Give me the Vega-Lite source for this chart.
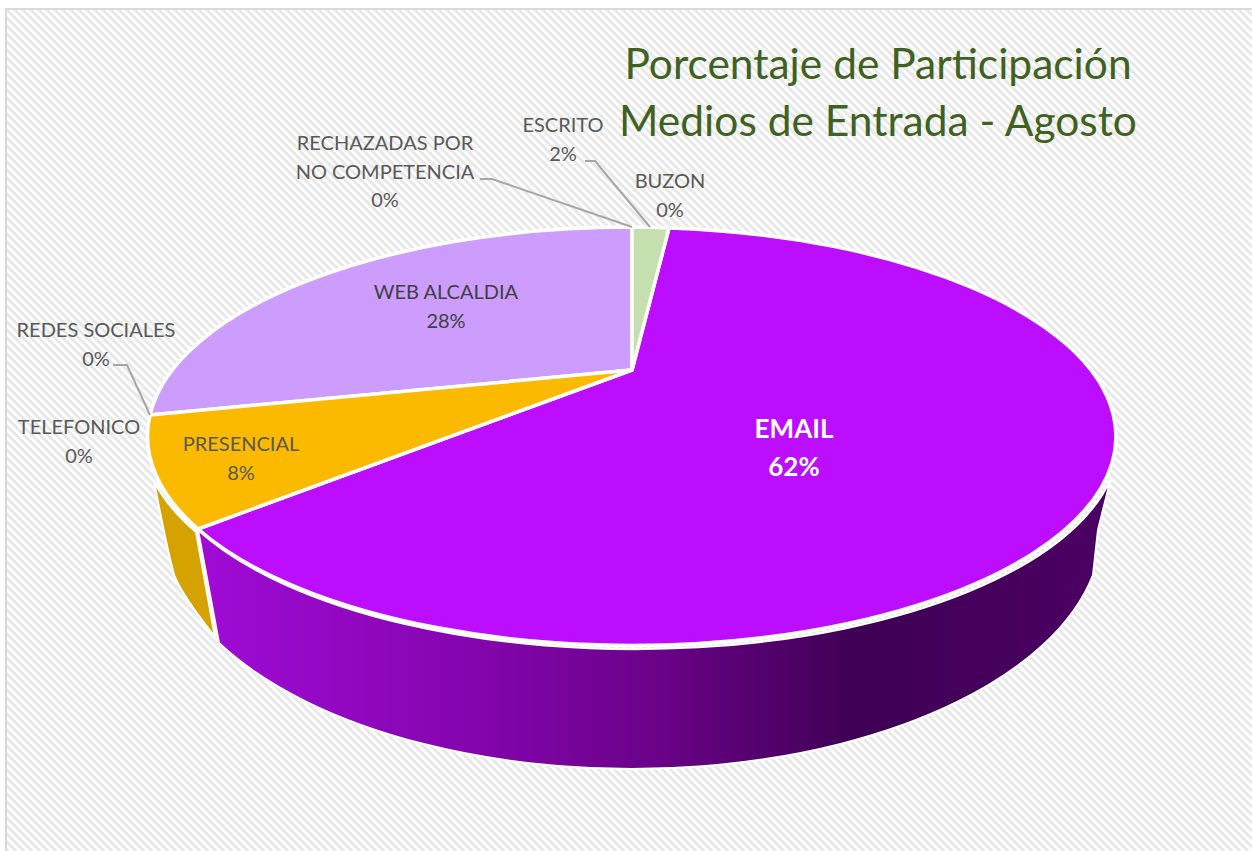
{"$schema":"https://vega.github.io/schema/vega-lite/v6.json","width":1252,"height":851,"padding":0,"autosize":{"type":"none"},"background":"white","config":{"view":{"stroke":null},"axis":{"disable":true},"text":{"font":"Lato"}},"title":{"text":["Porcentaje de Participación","Medios de Entrada - Agosto"],"font":"Lato","fontSize":42.5,"fontWeight":"normal","color":"#3F6122","anchor":"start","align":"center","baseline":"alphabetic","dx":878,"dy":178,"offset":0,"lineHeight":57},"data":{"values":[{"medio":"EMAIL","pct":62,"etiqueta":"EMAIL\n62%"},{"medio":"WEB ALCALDIA","pct":28,"etiqueta":"WEB ALCALDIA\n28%"},{"medio":"PRESENCIAL","pct":8,"etiqueta":"PRESENCIAL\n8%"},{"medio":"ESCRITO","pct":2,"etiqueta":"ESCRITO\n2%"},{"medio":"BUZON","pct":0,"etiqueta":"BUZON\n0%"},{"medio":"RECHAZADAS POR NO COMPETENCIA","pct":0,"etiqueta":"RECHAZADAS POR\nNO COMPETENCIA\n0%"},{"medio":"REDES SOCIALES","pct":0,"etiqueta":"REDES SOCIALES\n0%"},{"medio":"TELEFONICO","pct":0,"etiqueta":"TELEFONICO\n0%"}]},"encoding":{"x":{"datum":0,"type":"quantitative","scale":{"domain":[0,1252]}},"y":{"datum":0,"type":"quantitative","scale":{"domain":[851,0]}}},"layer":[{"transform":[{"filter":"datum.medio==='EMAIL'"}],"mark":{"type":"point","filled":true,"size":4,"clip":true,"fill":null,"stroke":"#E8E8E8","strokeWidth":3,"opacity":1,"shape":"M-851 0 l851 851 m-843 -851 l851 851 m-843 -851 l851 851 m-843 -851 l851 851 m-843 -851 l851 851 m-843 -851 l851 851 m-843 -851 l851 851 m-843 -851 l851 851 m-843 -851 l851 851 m-843 -851 l851 851 m-843 -851 l851 851 m-843 -851 l851 851 m-843 -851 l851 851 m-843 -851 l851 851 m-843 -851 l851 851 m-843 -851 l851 851 m-843 -851 l851 851 m-843 -851 l851 851 m-843 -851 l851 851 m-843 -851 l851 851 m-843 -851 l851 851 m-843 -851 l851 851 m-843 -851 l851 851 m-843 -851 l851 851 m-843 -851 l851 851 m-843 -851 l851 851 m-843 -851 l851 851 m-843 -851 l851 851 m-843 -851 l851 851 m-843 -851 l851 851 m-843 -851 l851 851 m-843 -851 l851 851 m-843 -851 l851 851 m-843 -851 l851 851 m-843 -851 l851 851 m-843 -851 l851 851 m-843 -851 l851 851 m-843 -851 l851 851 m-843 -851 l851 851 m-843 -851 l851 851 m-843 -851 l851 851 m-843 -851 l851 851 m-843 -851 l851 851 m-843 -851 l851 851 m-843 -851 l851 851 m-843 -851 l851 851 m-843 -851 l851 851 m-843 -851 l851 851 m-843 -851 l851 851 m-843 -851 l851 851 m-843 -851 l851 851 m-843 -851 l851 851 m-843 -851 l851 851 m-843 -851 l851 851 m-843 -851 l851 851 m-843 -851 l851 851 m-843 -851 l851 851 m-843 -851 l851 851 m-843 -851 l851 851 m-843 -851 l851 851 m-843 -851 l851 851 m-843 -851 l851 851 m-843 -851 l851 851 m-843 -851 l851 851 m-843 -851 l851 851 m-843 -851 l851 851 m-843 -851 l851 851 m-843 -851 l851 851 m-843 -851 l851 851 m-843 -851 l851 851 m-843 -851 l851 851 m-843 -851 l851 851 m-843 -851 l851 851 m-843 -851 l851 851 m-843 -851 l851 851 m-843 -851 l851 851 m-843 -851 l851 851 m-843 -851 l851 851 m-843 -851 l851 851 m-843 -851 l851 851 m-843 -851 l851 851 m-843 -851 l851 851 m-843 -851 l851 851 m-843 -851 l851 851 m-843 -851 l851 851 m-843 -851 l851 851 m-843 -851 l851 851 m-843 -851 l851 851 m-843 -851 l851 851 m-843 -851 l851 851 m-843 -851 l851 851 m-843 -851 l851 851 m-843 -851 l851 851 m-843 -851 l851 851 m-843 -851 l851 851 m-843 -851 l851 851 m-843 -851 l851 851 m-843 -851 l851 851 m-843 -851 l851 851 m-843 -851 l851 851 m-843 -851 l851 851 m-843 -851 l851 851 m-843 -851 l851 851 m-843 -851 l851 851 m-843 -851 l851 851 m-843 -851 l851 851 m-843 -851 l851 851 m-843 -851 l851 851 m-843 -851 l851 851 m-843 -851 l851 851 m-843 -851 l851 851 m-843 -851 l851 851 m-843 -851 l851 851 m-843 -851 l851 851 m-843 -851 l851 851 m-843 -851 l851 851 m-843 -851 l851 851 m-843 -851 l851 851 m-843 -851 l851 851 m-843 -851 l851 851 m-843 -851 l851 851 m-843 -851 l851 851 m-843 -851 l851 851 m-843 -851 l851 851 m-843 -851 l851 851 m-843 -851 l851 851 m-843 -851 l851 851 m-843 -851 l851 851 m-843 -851 l851 851 m-843 -851 l851 851 m-843 -851 l851 851 m-843 -851 l851 851 m-843 -851 l851 851 m-843 -851 l851 851 m-843 -851 l851 851 m-843 -851 l851 851 m-843 -851 l851 851 m-843 -851 l851 851 m-843 -851 l851 851 m-843 -851 l851 851 m-843 -851 l851 851 m-843 -851 l851 851 m-843 -851 l851 851 m-843 -851 l851 851 m-843 -851 l851 851 m-843 -851 l851 851 m-843 -851 l851 851 m-843 -851 l851 851 m-843 -851 l851 851 m-843 -851 l851 851 m-843 -851 l851 851 m-843 -851 l851 851 m-843 -851 l851 851 m-843 -851 l851 851 m-843 -851 l851 851 m-843 -851 l851 851 m-843 -851 l851 851 m-843 -851 l851 851 m-843 -851 l851 851 m-843 -851 l851 851 m-843 -851 l851 851 m-843 -851 l851 851 m-843 -851 l851 851 m-843 -851 l851 851 m-843 -851 l851 851 m-843 -851 l851 851 m-843 -851 l851 851 m-843 -851 l851 851 m-843 -851 l851 851 m-843 -851 l851 851 m-843 -851 l851 851 m-843 -851 l851 851 m-843 -851 l851 851 m-843 -851 l851 851 m-843 -851 l851 851 m-843 -851 l851 851 m-843 -851 l851 851 m-843 -851 l851 851 m-843 -851 l851 851 m-843 -851 l851 851 m-843 -851 l851 851 m-843 -851 l851 851 m-843 -851 l851 851 m-843 -851 l851 851 m-843 -851 l851 851 m-843 -851 l851 851 m-843 -851 l851 851 m-843 -851 l851 851 m-843 -851 l851 851 m-843 -851 l851 851 m-843 -851 l851 851 m-843 -851 l851 851 m-843 -851 l851 851 m-843 -851 l851 851 m-843 -851 l851 851 m-843 -851 l851 851 m-843 -851 l851 851 m-843 -851 l851 851 m-843 -851 l851 851 m-843 -851 l851 851 m-843 -851 l851 851 m-843 -851 l851 851 m-843 -851 l851 851 m-843 -851 l851 851 m-843 -851 l851 851 m-843 -851 l851 851 m-843 -851 l851 851 m-843 -851 l851 851 m-843 -851 l851 851 m-843 -851 l851 851 m-843 -851 l851 851 m-843 -851 l851 851 m-843 -851 l851 851 m-843 -851 l851 851 m-843 -851 l851 851 m-843 -851 l851 851 m-843 -851 l851 851 m-843 -851 l851 851 m-843 -851 l851 851 m-843 -851 l851 851 m-843 -851 l851 851 m-843 -851 l851 851 m-843 -851 l851 851 m-843 -851 l851 851 m-843 -851 l851 851 m-843 -851 l851 851 m-843 -851 l851 851 m-843 -851 l851 851 m-843 -851 l851 851 m-843 -851 l851 851 m-843 -851 l851 851 m-843 -851 l851 851 m-843 -851 l851 851 m-843 -851 l851 851 m-843 -851 l851 851 m-843 -851 l851 851 m-843 -851 l851 851 m-843 -851 l851 851 m-843 -851 l851 851 m-843 -851 l851 851 m-843 -851 l851 851 m-843 -851 l851 851 m-843 -851 l851 851 m-843 -851 l851 851 m-843 -851 l851 851 m-843 -851 l851 851 m-843 -851 l851 851 m-843 -851 l851 851 m-843 -851 l851 851 m-843 -851 l851 851 m-843 -851 l851 851 m-843 -851 l851 851 m-843 -851 l851 851 m-843 -851 l851 851 m-843 -851 l851 851 m-843 -851 l851 851 m-843 -851 l851 851 m-843 -851 l851 851 m-843 -851 l851 851 m-843 -851 l851 851 m-843 -851 l851 851 m-843 -851 l851 851 m-843 -851 l851 851 m-843 -851 l851 851 m-843 -851 l851 851 m-843 -851 l851 851 m-843 -851 l851 851 m-843 -851 l851 851 m-843 -851 l851 851 m-843 -851 l851 851 m-843 -851 l851 851 m-843 -851 l851 851 m-843 -851 l851 851 m-843 -851 l851 851 m-843 -851 l851 851 m-843 -851 l851 851 m-843 -851 l851 851 m-843 -851 l851 851 m-843 -851 l851 851 m-843 -851 l851 851 m-843 -851 l851 851 m-843 -851 l851 851 m-843 -851 l851 851 m-843 -851 l851 851 m-843 -851 l851 851 m-843 -851 l851 851 m-843 -851 l851 851 m-843 -851 l851 851 m-843 -851 l851 851 m-843 -851 l851 851 m-843 -851 l851 851 m-843 -851 l851 851 m-843 -851 l851 851 m-843 -851 l851 851 m-843 -851 l851 851 m-843 -851 l851 851 m-843 -851 l851 851 m-843 -851 l851 851 m-843 -851 l851 851 m-843 -851 l851 851 m-843 -851 l851 851 m-843 -851 l851 851 m-843 -851 l851 851 m-843 -851 l851 851 m-843 -851 l851 851 m-843 -851 l851 851 m-843 -851 l851 851 m-843 -851 l851 851 m-843 -851 l851 851 m-843 -851 l851 851 m-843 -851 l851 851 m-843 -851 l851 851 m-843 -851 l851 851 m-843 -851 l851 851 m-843 -851 l851 851 m-843 -851 l851 851 m-843 -851 l851 851 m-843 -851 l851 851 m-843 -851 l851 851 m-843 -851 l851 851 m-843 -851 l851 851 m-843 -851 l851 851 m-843 -851 l851 851 m-843 -851 l851 851 m-843 -851 l851 851 m-843 -851 l851 851 m-843 -851 l851 851 m-843 -851 l851 851 m-843 -851 l851 851 m-843 -851 l851 851 m-843 -851 l851 851 m-843 -851 l851 851 m-843 -851 l851 851 m-843 -851 l851 851 m-843 -851 l851 851 m-843 -851 l851 851 m-843 -851 l851 851 m-843 -851 l851 851 m-843 -851 l851 851 m-843 -851 l851 851 m-843 -851 l851 851 m-843 -851 l851 851 m-843 -851 l851 851 m-843 -851 l851 851 m-843 -851 l851 851 m-843 -851 l851 851 m-843 -851 l851 851 m-843 -851 l851 851 m-843 -851 l851 851 m-843 -851 l851 851 m-843 -851 l851 851 m-843 -851 l851 851 m-843 -851 l851 851 m-843 -851 l851 851 m-843 -851 l851 851 m-843 -851 l851 851 m-843 -851 l851 851 m-843 -851 l851 851 m-843 -851 l851 851 m-843 -851 l851 851 m-843 -851 l851 851 m-843 -851 l851 851 m-843 -851 l851 851 m-843 -851 l851 851 m-843 -851 l851 851 m-843 -851 l851 851 m-843 -851 l851 851 m-843 -851 l851 851 m-843 -851 l851 851 m-843 -851 l851 851 m-843 -851 l851 851 m-843 -851 l851 851 m-843 -851 l851 851 m-843 -851 l851 851 m-843 -851 l851 851 m-843 -851 l851 851 m-843 -851 l851 851 m-843 -851 l851 851 m-843 -851 l851 851 m-843 -851 l851 851 m-843 -851 l851 851 m-843 -851 l851 851 m-843 -851 l851 851 m-843 -851 l851 851 m-843 -851 l851 851 m-843 -851 l851 851 m-843 -851 l851 851 m-843 -851 l851 851 m-843 -851 l851 851 m-843 -851 l851 851 m-843 -851 l851 851 m-843 -851 l851 851 m-843 -851 l851 851 m-843 -851 l851 851 m-843 -851 l851 851 m-843 -851 l851 851 m-843 -851 l851 851 m-843 -851 l851 851 m-843 -851 l851 851"}},{"transform":[{"filter":"datum.medio==='EMAIL'"}],"mark":{"type":"point","filled":true,"size":4,"fill":"white","stroke":null,"opacity":1,"shape":"M0 0H1252V9H7V851H0Z"}},{"transform":[{"filter":"datum.medio==='EMAIL'"}],"mark":{"type":"point","filled":false,"size":4,"fill":null,"stroke":"#D9D9D9","strokeWidth":2,"opacity":1,"shape":"M6 851V9H1252"}},{"transform":[{"filter":"datum.medio==='PRESENCIAL'"}],"mark":{"type":"point","filled":true,"size":4,"fill":"#D6A200","stroke":"white","strokeWidth":2,"opacity":1,"shape":"M154 481 A484 209 0 0 0 196 532 L215 637 Q183 597 174 575 Q165 540 154 481 Z"}},{"transform":[{"filter":"datum.medio==='EMAIL'"}],"mark":{"type":"point","filled":true,"size":4,"stroke":"white","strokeWidth":2,"opacity":1,"fill":{"gradient":"linear","x1":0,"y1":0,"x2":1,"y2":0,"stops":[{"offset":0,"color":"#A00BD6"},{"offset":0.3,"color":"#8405AE"},{"offset":0.5,"color":"#6B0289"},{"offset":0.72,"color":"#3F0055"},{"offset":1,"color":"#4B0063"}]},"shape":"M1111 478 A484 209 0 0 1 198 530 L219 643 A470 241 0 0 0 1093 575 L1098 530 Z"}},{"transform":[{"filter":"datum.pct>0"}],"mark":{"type":"point","filled":true,"size":4,"stroke":"white","strokeWidth":3.5,"opacity":1,"strokeJoin":"round"},"encoding":{"shape":{"field":"medio","type":"nominal","legend":null,"scale":{"domain":["EMAIL","WEB ALCALDIA","PRESENCIAL","ESCRITO"],"range":["M632 370 L669 228 A484 209 0 1 1 198 529 Z","M632 370 L150 415 A484 209 0 0 1 632 227 Z","M632 370 L198 529 A484 209 0 0 1 150 415 Z","M632 370 L632 227 A484 209 0 0 1 669 228 Z"]}},"color":{"field":"medio","type":"nominal","legend":null,"scale":{"domain":["EMAIL","WEB ALCALDIA","PRESENCIAL","ESCRITO"],"range":["#BC0DFF","#CC9DFD","#FBBA00","#C5DFAE"]}}}},{"transform":[{"filter":"datum.medio==='ESCRITO'"}],"mark":{"type":"point","filled":false,"size":4,"fill":null,"stroke":"#A6A6A6","strokeWidth":2,"opacity":1,"shape":"M585 161 L595 161 L650 227"}},{"transform":[{"filter":"datum.medio==='RECHAZADAS POR NO COMPETENCIA'"}],"mark":{"type":"point","filled":false,"size":4,"fill":null,"stroke":"#A6A6A6","strokeWidth":2,"opacity":1,"shape":"M480 179 L492 179 L632 227"}},{"transform":[{"filter":"datum.medio==='REDES SOCIALES'"}],"mark":{"type":"point","filled":false,"size":4,"fill":null,"stroke":"#A6A6A6","strokeWidth":2,"opacity":1,"shape":"M113 365 L127 365 L150 415"}},{"transform":[{"filter":"datum.medio==='ESCRITO'"}],"mark":{"type":"text","fontSize":20,"color":"#595959","lineBreak":"\n","lineHeight":29,"align":"center","baseline":"alphabetic"},"encoding":{"x":{"datum":563,"type":"quantitative"},"y":{"datum":132,"type":"quantitative"},"text":{"field":"etiqueta"}}},{"transform":[{"filter":"datum.medio==='BUZON'"}],"mark":{"type":"text","fontSize":20,"color":"#595959","lineBreak":"\n","lineHeight":29,"align":"center","baseline":"alphabetic"},"encoding":{"x":{"datum":670,"type":"quantitative"},"y":{"datum":188,"type":"quantitative"},"text":{"field":"etiqueta"}}},{"transform":[{"filter":"datum.medio==='RECHAZADAS POR NO COMPETENCIA'"}],"mark":{"type":"text","fontSize":20,"color":"#595959","lineBreak":"\n","lineHeight":28.5,"align":"center","baseline":"alphabetic"},"encoding":{"x":{"datum":385,"type":"quantitative"},"y":{"datum":150,"type":"quantitative"},"text":{"field":"etiqueta"}}},{"transform":[{"filter":"datum.medio==='WEB ALCALDIA'"}],"mark":{"type":"text","fontSize":20,"color":"#404040","lineBreak":"\n","lineHeight":29,"align":"center","baseline":"alphabetic"},"encoding":{"x":{"datum":446,"type":"quantitative"},"y":{"datum":299,"type":"quantitative"},"text":{"field":"etiqueta"}}},{"transform":[{"filter":"datum.medio==='REDES SOCIALES'"}],"mark":{"type":"text","fontSize":20,"color":"#595959","lineBreak":"\n","lineHeight":29,"align":"center","baseline":"alphabetic"},"encoding":{"x":{"datum":96,"type":"quantitative"},"y":{"datum":337,"type":"quantitative"},"text":{"field":"etiqueta"}}},{"transform":[{"filter":"datum.medio==='TELEFONICO'"}],"mark":{"type":"text","fontSize":20,"color":"#595959","lineBreak":"\n","lineHeight":29,"align":"center","baseline":"alphabetic"},"encoding":{"x":{"datum":79,"type":"quantitative"},"y":{"datum":434,"type":"quantitative"},"text":{"field":"etiqueta"}}},{"transform":[{"filter":"datum.medio==='PRESENCIAL'"}],"mark":{"type":"text","fontSize":20,"color":"#595959","lineBreak":"\n","lineHeight":29,"align":"center","baseline":"alphabetic"},"encoding":{"x":{"datum":241,"type":"quantitative"},"y":{"datum":451,"type":"quantitative"},"text":{"field":"etiqueta"}}},{"transform":[{"filter":"datum.medio==='EMAIL'"}],"mark":{"type":"text","fontSize":26,"fontWeight":"bold","color":"white","lineBreak":"\n","lineHeight":38,"align":"center","baseline":"alphabetic"},"encoding":{"x":{"datum":794,"type":"quantitative"},"y":{"datum":438,"type":"quantitative"},"text":{"field":"etiqueta"}}}]}
